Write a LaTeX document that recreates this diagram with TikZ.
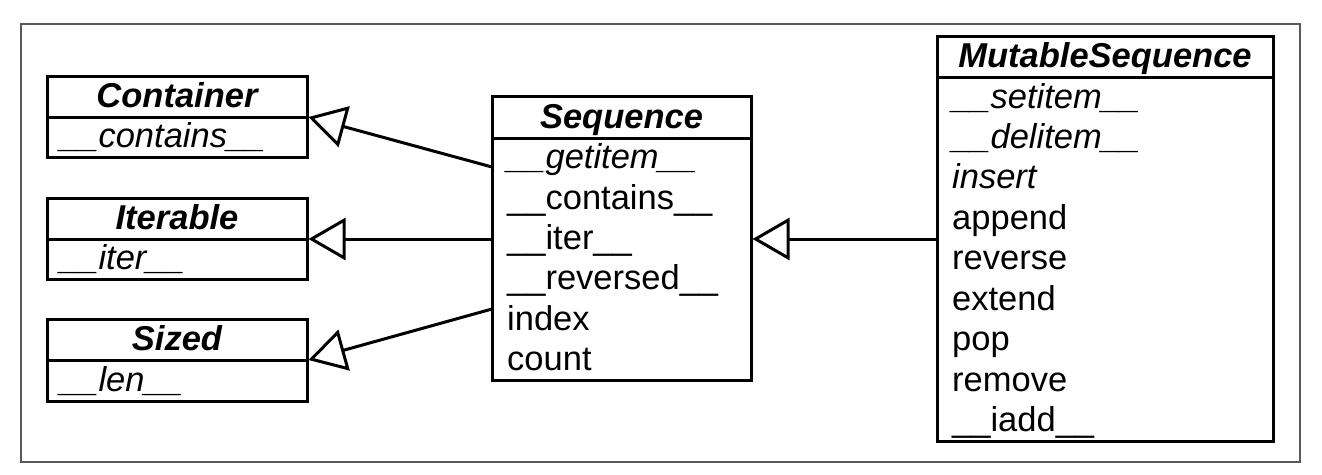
\documentclass[tikz,border=0pt]{standalone}
\usepackage{fontspec}
\setmainfont{Liberation Sans}
\usetikzlibrary{arrows.meta,calc}
\begin{document}
\begin{tikzpicture}[x=1pt,y=-1pt,
  font=\fontsize{34.5}{40}\selectfont,
  umlpart/.style 2 args={draw,line width=3pt,inner sep=0pt,outer sep=0pt,anchor=north west,
    minimum width=#1,minimum height=#2},
  title/.style={anchor=base,inner sep=0pt,font=\fontsize{34.5}{40}\selectfont\bfseries\itshape},
  member/.style={anchor=base west,inner sep=0pt},
  abstract/.style={member,font=\fontsize{34.5}{40}\selectfont\itshape},
  conn/.style={line width=3pt,-{Triangle[open,length=37pt,width=42pt]}}]
\useasboundingbox (0,0) rectangle (1322,474);
\draw[line width=1.3pt,black!65] (21,24) rectangle (1300,462);

% Container
\node[umlpart={260pt}{41pt}] (contH) at (47,76) {};
\node[umlpart={260pt}{40pt}] (contB) at (47,117) {};
\node[title] (contT) at (177,107) {Container};
\node[abstract] (contM) at (60,147.5) {\_\_contains\_\_};

% Iterable
\node[umlpart={260pt}{41pt}] (iterH) at (47,198) {};
\node[umlpart={260pt}{40pt}] (iterB) at (47,239) {};
\node[title] (iterT) at (177,229) {Iterable};
\node[abstract] (iterM) at (60,269.5) {\_\_iter\_\_};

% Sized
\node[umlpart={260pt}{41pt}] (sizH) at (47,319) {};
\node[umlpart={260pt}{41pt}] (sizB) at (47,360) {};
\node[title] (sizT) at (177,350) {Sized};
\node[abstract] (sizM) at (60,391) {\_\_len\_\_};

% Sequence
\node[umlpart={259pt}{42pt}] (seqH) at (492,96) {};
\node[umlpart={259pt}{242pt}] (seqB) at (492,138) {};
\node[title] (seqT) at (621.5,128) {Sequence};
\node[abstract] (seq1) at (507,168.8) {\_\_getitem\_\_};
\node[member] (seq2) at (507,209.2) {\_\_contains\_\_};
\node[member] (seq3) at (507,249.5) {\_\_iter\_\_};
\node[member] (seq4) at (507,289.8) {\_\_reversed\_\_};
\node[member] (seq5) at (507,330.2) {index};
\node[member] (seq6) at (507,370.5) {count};

% MutableSequence
\node[umlpart={336pt}{41pt}] (msH) at (937,36) {};
\node[umlpart={336pt}{364pt}] (msB) at (937,77) {};
\node[title] (msT) at (1105,67) {MutableSequence};
\node[abstract] (ms1) at (952,108) {\_\_setitem\_\_};
\node[abstract] (ms2) at (952,148.4) {\_\_delitem\_\_};
\node[abstract] (ms3) at (952,188.8) {insert};
\node[member] (ms4) at (952,229.3) {append};
\node[member] (ms5) at (952,269.7) {reverse};
\node[member] (ms6) at (952,310.1) {extend};
\node[member] (ms7) at (952,350.6) {pop};
\node[member] (ms8) at (952,391) {remove};
\node[member] (ms9) at (952,431.5) {\_\_iadd\_\_};

% connector end points on the borders
\coordinate (sA) at ($(seqB.north west)+(0,29)$);
\coordinate (sB) at ($(seqB.north west)+(0,101)$);
\coordinate (sC) at ($(seqB.north west)+(0,171)$);
\coordinate (mA) at ($(msB.north west)+(0,162)$);

\draw[conn] (sA) -- ($(contH.south east)+(1.5,0)$);
\draw[conn] (sB) -- ($(iterH.south east)+(1.5,0)$);
\draw[conn] (sC) -- ($(sizH.south east)+(1.5,0)$);
\draw[conn] (mA) -- ($(mA -| seqB.east)+(1.5,0)$);
\end{tikzpicture}
\end{document}
